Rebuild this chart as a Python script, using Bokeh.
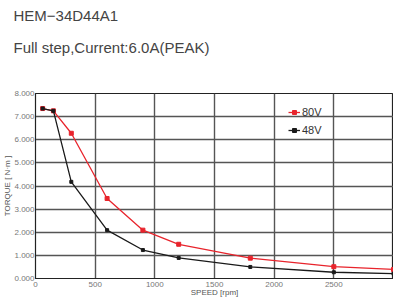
from bokeh.plotting import figure
from bokeh.models import (Title, NumeralTickFormatter, FixedTicker, Range1d, Legend,
                          LegendItem, LinearAxis)
from bokeh.embed import file_html
from bokeh.resources import INLINE

speed = [60, 150, 300, 600, 900, 1200, 1800, 2500, 3000]
torque_80v = [7.35, 7.25, 6.28, 3.46, 2.09, 1.48, 0.88, 0.51, 0.39]
torque_48v = [7.35, 7.25, 4.18, 2.09, 1.23, 0.89, 0.50, 0.27, 0.21]
x_ticks = [0, 500, 1000, 1500, 2000, 2500]
y_ticks = [0, 1, 2, 3, 4, 5, 6, 7, 8]
title_text = "HEM\u221234D44A1"
subtitle_text = "Full step,Current:6.0A(PEAK)"

FONT = "Liberation Sans"
RED = "#e8242c"
BLACK = "#1a1a1a"

p = figure(width=393, height=299, output_backend="svg", toolbar_location=None,
           x_range=Range1d(0, 3000), y_range=Range1d(0, 8),
           min_border_left=0, min_border_right=0, min_border_bottom=0, min_border_top=0)

r80l = p.line(speed, torque_80v, line_color=RED, line_width=1.3)
r80m = p.scatter(speed, torque_80v, marker="square", size=4, fill_color=RED, line_color=RED)
r48l = p.line(speed, torque_48v, line_color=BLACK, line_width=1.3)
r48m = p.scatter(speed, torque_48v, marker="square", size=3, fill_color=BLACK, line_color=BLACK)

legend = Legend(items=[LegendItem(label="80V", renderers=[r80l, r80m]),
                       LegendItem(label="48V", renderers=[r48l, r48m])],
                location=(249, 138), background_fill_alpha=0, border_line_alpha=0,
                label_text_font=FONT, label_text_font_size="11px", label_text_color="#333333",
                glyph_width=12, glyph_height=10, spacing=6, padding=4, label_standoff=2)
p.add_layout(legend, "center")

p.xaxis.ticker = FixedTicker(ticks=x_ticks)
p.yaxis.ticker = FixedTicker(ticks=y_ticks)
p.yaxis.formatter = NumeralTickFormatter(format="0.000")
p.xaxis.axis_label = "SPEED [rpm]"
p.yaxis.axis_label = "TORQUE [ N\u00b7m ]"
for ax in (p.xaxis, p.yaxis):
    ax.major_label_text_font = FONT
    ax.major_label_text_font_size = "8px"
    ax.major_label_text_color = "#777777"
    ax.axis_label_text_font = FONT
    ax.axis_label_text_font_size = "8px"
    ax.axis_label_text_font_style = "normal"
    ax.axis_label_text_color = "#555555"
    ax.axis_label_standoff = 0
    ax.major_label_standoff = 1
    ax.minor_tick_line_color = None
    ax.major_tick_out = 0
    ax.major_tick_in = 0
    ax.axis_line_color = "#222222"
p.yaxis.axis_label_standoff = -1
p.xaxis.major_label_standoff = 3
p.xaxis.axis_label_standoff = -2

# spacer axis between subtitle and plot frame: one invisible tick, no label
spacer = LinearAxis(ticker=FixedTicker(ticks=[0]), major_label_overrides={0: ""},
                    axis_line_color=None, major_tick_out=25, major_tick_in=0,
                    major_label_standoff=0, minor_tick_line_color=None,
                    major_tick_line_color=None)
p.add_layout(spacer, "above")

sub = Title(text=subtitle_text, text_font=FONT, text_font_size="15px",
            text_font_style="normal", text_color="#444444", align="left", offset=-22,
            standoff=22, vertical_align="top")
main = Title(text=title_text, text_font=FONT, text_font_size="15px",
             text_font_style="normal", text_color="#444444", align="left", offset=-22,
             standoff=8, vertical_align="bottom")
p.add_layout(sub, "above")
p.add_layout(main, "above")

p.xgrid.grid_line_color = "#555555"
p.ygrid.grid_line_color = "#555555"
p.xgrid.grid_line_width = 1.4
p.ygrid.grid_line_width = 1.4
p.outline_line_color = "#222222"
p.outline_line_width = 1.2

open("out.html", "w").write(file_html(p, INLINE))
